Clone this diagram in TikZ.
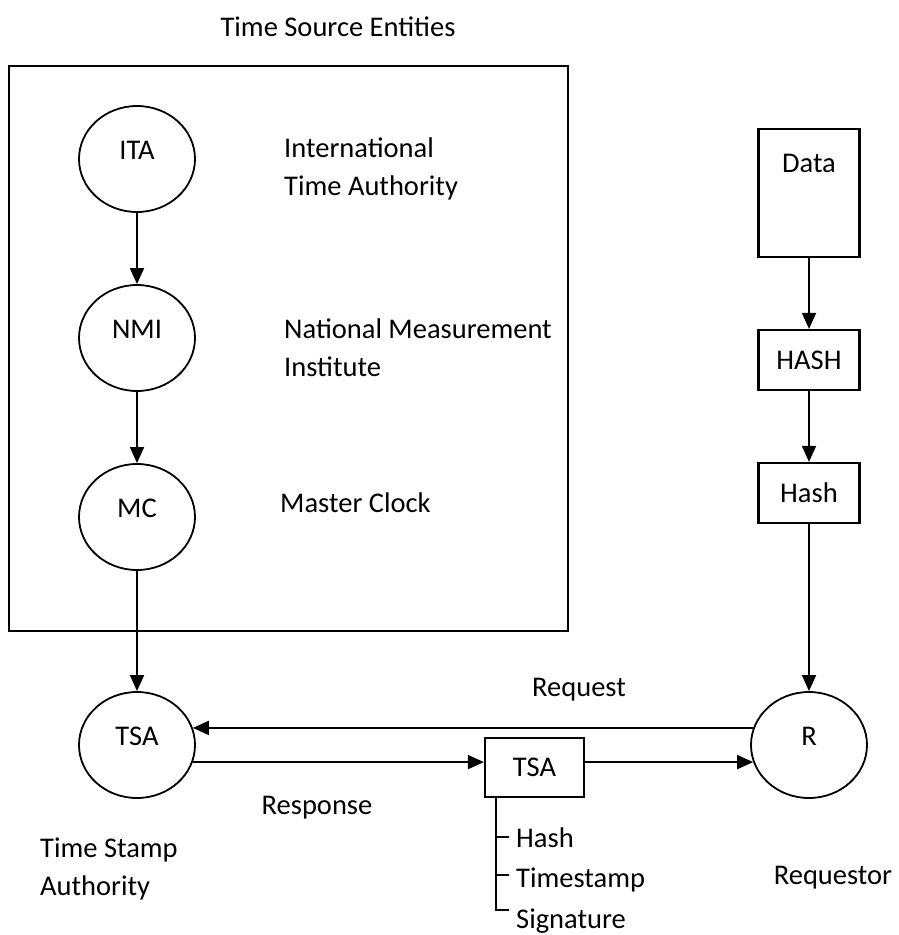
\documentclass[tikz,border=0pt]{standalone}
\usepackage{fontspec}
\setmainfont{Carlito}
\usetikzlibrary{arrows.meta,shapes.geometric,calc}
\begin{document}
\begin{tikzpicture}[x=1pt,y=-1pt,
  every node/.style={font=\fontsize{28.5}{38}\selectfont},
  ent/.style={ellipse,draw,line width=1.8pt,minimum width=116pt,minimum height=106pt,inner sep=0pt,text height=20pt,text depth=20pt},
  bx/.style={rectangle,draw,line width=2.2pt,minimum width=101pt,inner sep=0pt},
  arr/.style={line width=1.8pt,-{Triangle[length=16pt,width=14pt]}},
  ln/.style={line width=1.8pt},
  lbl/.style={inner sep=0pt,align=left}]
\useasboundingbox (0,0) rectangle (898,935);
% title and frame
\node[inner sep=0pt] (title) at (338,27) {Time Source Entities};
\node[draw,line width=2.2pt,minimum width=559pt,minimum height=565pt,inner sep=0pt] (tse) at (288.5,348.5) {};
% entities
\node[ent] (ita) at (137,159) {ITA};
\node[ent] (nmi) at (137,338) {NMI};
\node[ent] (mc)  at (137,517) {MC};
\node[ent] (tsa) at (137,745) {TSA};
\node[ent] (r)   at (809,745) {R};
% side labels
\node[lbl,anchor=west] (ital) at (284,169) {International\\Time Authority};
\node[lbl,anchor=west] (nmil) at (284,348) {National Measurement\\Institute};
\node[lbl,anchor=west] (mcl)  at (280,503) {Master Clock};
% requestor side boxes
\node[bx,minimum height=128pt,text height=20pt,text depth=62pt] (data) at (809,193) {Data};
\node[bx,minimum height=60pt] (hashf) at (809,360) {HASH};
\node[bx,minimum height=60pt] (hashv) at (809,493) {Hash};
\node[bx,minimum width=99pt,minimum height=59pt] (tsab) at (534.5,767.5) {TSA};
% other labels
\node[inner sep=0pt] (req)  at (579,690) {Request};
\node[inner sep=0pt] (resp) at (317,808) {Response};
\node[lbl,anchor=west] (tsal) at (40,869) {Time Stamp\\Authority};
\node[inner sep=0pt] (rl)   at (833,878) {Requestor};
% token contents bracket
\coordinate (b0) at ($(tsab.south west)+(12,0)$);
\coordinate (b1) at ($(b0)+(0,39)$);
\coordinate (b2) at ($(b0)+(0,77)$);
\coordinate (b3) at ($(b0)+(0,112)$);
\draw[ln] (b0) -- (b3) -- ++(13,0);
\draw[ln] (b1) -- ++(13,0);
\draw[ln] (b2) -- ++(13,0);
\node[inner sep=0pt,anchor=base west] (lh) at (516,847) {Hash};
\node[inner sep=0pt,anchor=base west] (lt) at (516,887) {Timestamp};
\node[inner sep=0pt,anchor=base west] (ls) at (516,928) {Signature};
% connectors
\draw[arr] (ita) -- (nmi);
\draw[arr] (nmi) -- (mc);
\draw[arr] (mc) -- (tsa);
\draw[arr] (data) -- (hashf);
\draw[arr] (hashf) -- (hashv);
\draw[arr] (hashv) -- (r);
\draw[arr] (r.163) -- (tsa.17);
\draw[arr] (tsa.-17) -- (tsa.-17 -| tsab.west);
\draw[arr] (tsab.east |- r.197) -- (r.197);
\end{tikzpicture}
\end{document}
